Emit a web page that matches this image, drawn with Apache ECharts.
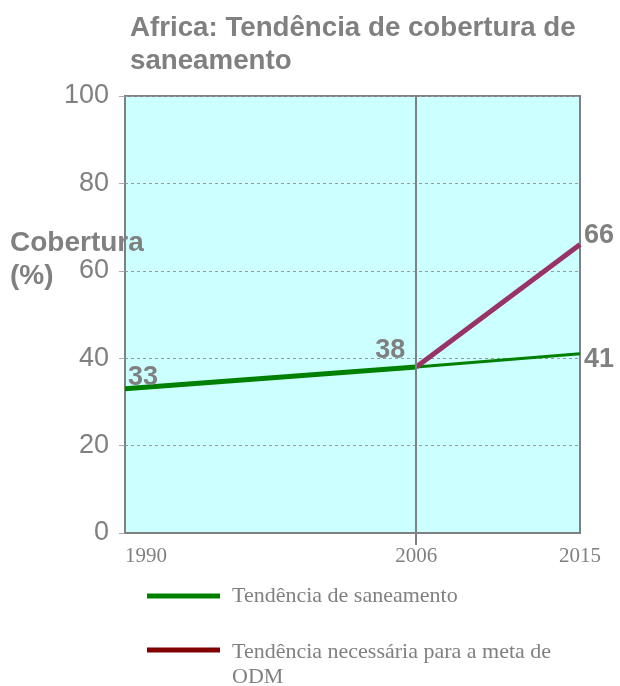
<!DOCTYPE html>
<html>
<head>
<meta charset="utf-8">
<script src="https://cdn.jsdelivr.net/npm/echarts@6/dist/echarts.min.js"></script>
<style>
  html, body { margin: 0; padding: 0; background: #fff; }
  #chart { width: 620px; height: 686px; }
</style>
</head>
<body>
<div id="chart"></div>
<script type="text/javascript">
  // dados
  var anos = [1990, 2006, 2015]
  var tendencia = [33, 38, 41]
  var meta = [38, 66]
  var yTicks = [0, 20, 40, 60, 80, 100]

  var nomeTend = 'Tendência de saneamento'
  var nomeMeta = 'Tendência necessária para a meta de ODM'
  var cinza = '#808080'
  var invisivel = 'rgba(0,0,0,0)'

  function rotulo(pos) {
    return {
      show: true,
      position: pos,
      color: cinza,
      fontFamily: 'Liberation Sans',
      fontWeight: 'bold',
      fontSize: 27
    }
  }

  var chart = echarts.init(document.getElementById('chart'))
  chart.setOption({
    animation: false,
    title: {
      text: 'Africa: Tendência de cobertura de\nsaneamento',
      left: 125,
      top: 7,
      textStyle: {
        color: cinza,
        fontFamily: 'Liberation Sans',
        fontWeight: 'bold',
        fontSize: 27.7,
        lineHeight: 33
      }
    },
    graphic: [
      {
        type: 'text',
        left: 10,
        top: 227,
        style: {
          text: 'Cobertura\n(%)',
          fill: cinza,
          font: 'bold 28px "Liberation Sans"',
          lineHeight: 33
        }
      }
    ],
    grid: {
      left: 125,
      right: 40,
      top: 96,
      bottom: 153,
      show: true,
      backgroundColor: '#ccffff',
      borderColor: cinza,
      borderWidth: 2
    },
    legend: [
      {
        orient: 'vertical',
        left: 142,
        top: 580,
        itemWidth: 73,
        itemHeight: 5,
        icon: 'rect',
        data: [{name: nomeTend, itemStyle: {color: '#008000', opacity: 1}}],
        textStyle: {color: cinza, fontFamily: 'Liberation Serif', fontSize: 22, padding: [0, 0, 0, 7]}
      },
      {
        orient: 'vertical',
        left: 142,
        top: 632,
        itemWidth: 73,
        itemHeight: 5,
        icon: 'rect',
        data: [{name: nomeMeta, itemStyle: {color: '#800000', opacity: 1}}],
        // primeira linha alinhada com o ícone, "ODM" na linha de baixo
        formatter: function () { return '{s| }{t|Tendência necessária para a meta de}\n{t|ODM}' },
        textStyle: {
          color: cinza,
          fontFamily: 'Liberation Serif',
          fontSize: 22,
          padding: [0, 0, 0, 7],
          rich: {
            s: {fontSize: 1, lineHeight: 52, width: 0},
            t: {color: cinza, fontFamily: 'Liberation Serif', fontSize: 22, lineHeight: 25, verticalAlign: 'bottom'}
          }
        }
      }
    ],
    xAxis: {
      type: 'value',
      min: anos[0],
      max: anos[anos.length - 1],
      axisLine: {show: true, lineStyle: {color: cinza, width: 2}},
      axisTick: {show: true, customValues: [anos[1]], length: 12, lineStyle: {color: cinza, width: 2}},
      splitLine: {show: false},
      axisLabel: {
        customValues: anos,
        formatter: function (v) { return String(v) },
        alignMinLabel: 'left',
        color: cinza,
        fontFamily: 'Liberation Serif',
        fontSize: 21,
        margin: 13
      }
    },
    yAxis: {
      type: 'value',
      min: yTicks[0],
      max: yTicks[yTicks.length - 1],
      interval: 20,
      axisLine: {show: true, lineStyle: {color: cinza, width: 2}},
      axisTick: {show: true, length: 6, lineStyle: {color: '#aaaaaa'}},
      splitLine: {show: true, lineStyle: {color: '#999999', type: [3, 3], width: 1}},
      axisLabel: {
        color: cinza,
        fontFamily: 'Liberation Sans',
        fontSize: 27,
        margin: 16
      }
    },
    series: [
      {
        name: nomeTend,
        type: 'line',
        symbol: 'circle',
        symbolSize: 2,
        showSymbol: true,
        itemStyle: {color: invisivel},
        lineStyle: {color: '#008000', width: 5},
        data: [
          {value: [anos[0], tendencia[0]], label: rotulo([4, -24])},
          {value: [anos[1], tendencia[1]], label: rotulo([-40, -29])}
        ],
        markLine: {
          silent: true,
          symbol: 'none',
          label: {show: false},
          lineStyle: {color: cinza, type: 'solid', width: 2},
          data: [{xAxis: anos[1]}]
        },
        z: 3
      },
      {
        name: nomeTend,
        type: 'line',
        symbol: 'circle',
        symbolSize: 2,
        showSymbol: true,
        itemStyle: {color: invisivel},
        lineStyle: {color: '#008000', width: 3},
        data: [
          {value: [anos[1], tendencia[1]]},
          {value: [anos[2], tendencia[2]], label: rotulo([5, -7])}
        ],
        z: 3
      },
      {
        name: nomeMeta,
        type: 'line',
        symbol: 'circle',
        symbolSize: 2,
        showSymbol: true,
        itemStyle: {color: invisivel},
        lineStyle: {color: '#993366', width: 5},
        data: [
          {value: [anos[1], meta[0]]},
          {value: [anos[2], meta[1]], label: rotulo([5, -22])}
        ],
        z: 4
      }
    ]
  })
</script>
</body>
</html>
